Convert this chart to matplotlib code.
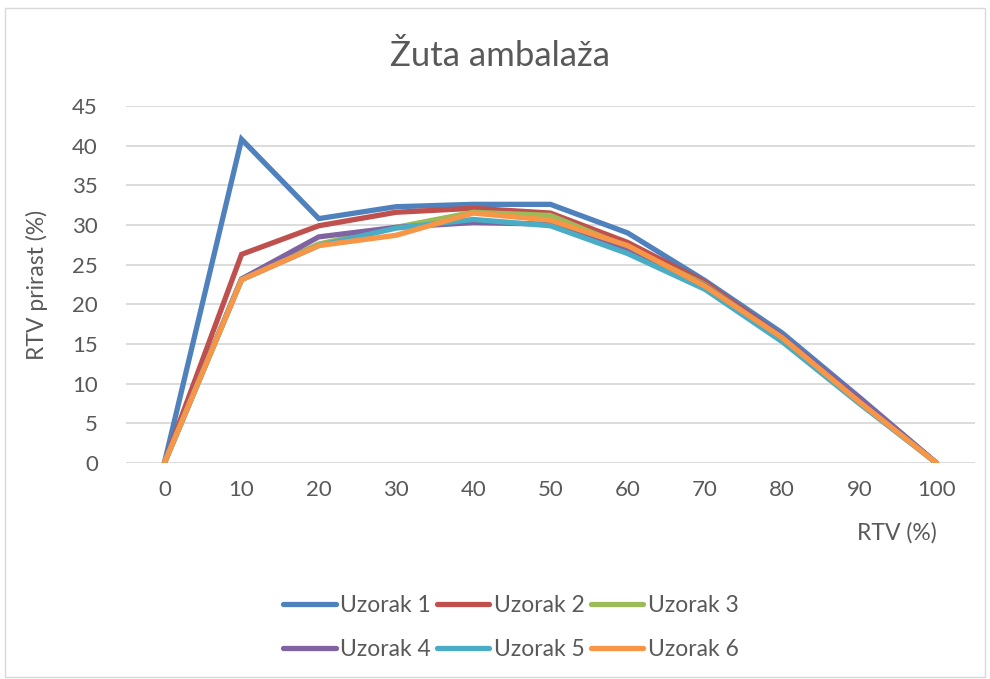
import matplotlib.pyplot as plt
from matplotlib.patches import Rectangle

plt.rcParams['font.family'] = ['Lato', 'DejaVu Sans']

rtv = [0, 10, 20, 30, 40, 50, 60, 70, 80, 90, 100]
uzorak1 = [0, 40.8, 30.8, 32.3, 32.6, 32.6, 29.0, 23.0, 16.4, 8.3, 0]
uzorak2 = [0, 26.3, 29.9, 31.6, 32.1, 31.5, 27.8, 22.8, 15.9, 8.0, 0]
uzorak3 = [0, 23.2, 27.6, 29.7, 31.6, 31.2, 27.2, 22.5, 15.7, 7.8, 0]
uzorak4 = [0, 23.2, 28.5, 29.7, 30.3, 30.1, 26.8, 22.4, 15.9, 8.2, 0]
uzorak5 = [0, 23.1, 27.4, 29.6, 30.7, 29.9, 26.4, 21.9, 15.3, 7.5, 0]
uzorak6 = [0, 23.1, 27.4, 28.7, 31.5, 30.6, 27.4, 22.3, 15.8, 7.7, 0]

serije = [uzorak1, uzorak2, uzorak3, uzorak4, uzorak5, uzorak6]
nazivi = ['Uzorak 1', 'Uzorak 2', 'Uzorak 3', 'Uzorak 4', 'Uzorak 5', 'Uzorak 6']
boje = ['#4F81BD', '#C0504D', '#9BBB59', '#8064A2', '#4BACC6', '#F79646']

siva = '#595959'

fig = plt.figure(figsize=(9.9, 6.79), dpi=100)
ax = fig.add_axes([0.127, 0.318, 0.858, 0.526])

linije = []
for y, naziv, boja in zip(serije, nazivi, boje):
    l, = ax.plot(rtv, y, color=boja, linewidth=3.8, label=naziv,
                 solid_joinstyle='miter', solid_capstyle='round')
    linije.append(l)

ax.set_xlim(-5, 105)
ax.set_ylim(0, 45)
ax.set_xticks(rtv)
ax.set_yticks(range(0, 46, 5))
ax.grid(axis='y', color='#D9D9D9', linewidth=1.3)
ax.set_axisbelow(True)
for s in ax.spines.values():
    s.set_visible(False)
ax.tick_params(length=0, labelsize=16, colors=siva, pad=20)
ax.tick_params(axis='x', pad=12)

fig.text(0.505, 0.917, 'Žuta ambalaža', ha='center', va='center',
         fontsize=25, color=siva)
fig.text(0.037, 0.58, 'RTV prirast (%)', rotation=90, ha='center',
         va='center', fontsize=16.5, color=siva)
fig.text(0.946, 0.215, 'RTV (%)', ha='right', va='center',
         fontsize=16.5, color=siva)

# redoslijed po redovima (1 2 3 / 4 5 6)
red = [0, 3, 1, 4, 2, 5]
fig.legend([linije[i] for i in red], [nazivi[i] for i in red],
           loc='center', bbox_to_anchor=(0.516, 0.076), ncol=3,
           frameon=False, fontsize=16.5, handlelength=2.3,
           handletextpad=0.2, columnspacing=0.25, labelspacing=1.0,
           labelcolor=siva)

fig.patches.append(Rectangle((0.005, 0.003), 0.99, 0.985,
                             transform=fig.transFigure, fill=False,
                             edgecolor='#D9D9D9', linewidth=1))

fig.savefig('out.png', dpi=100)
